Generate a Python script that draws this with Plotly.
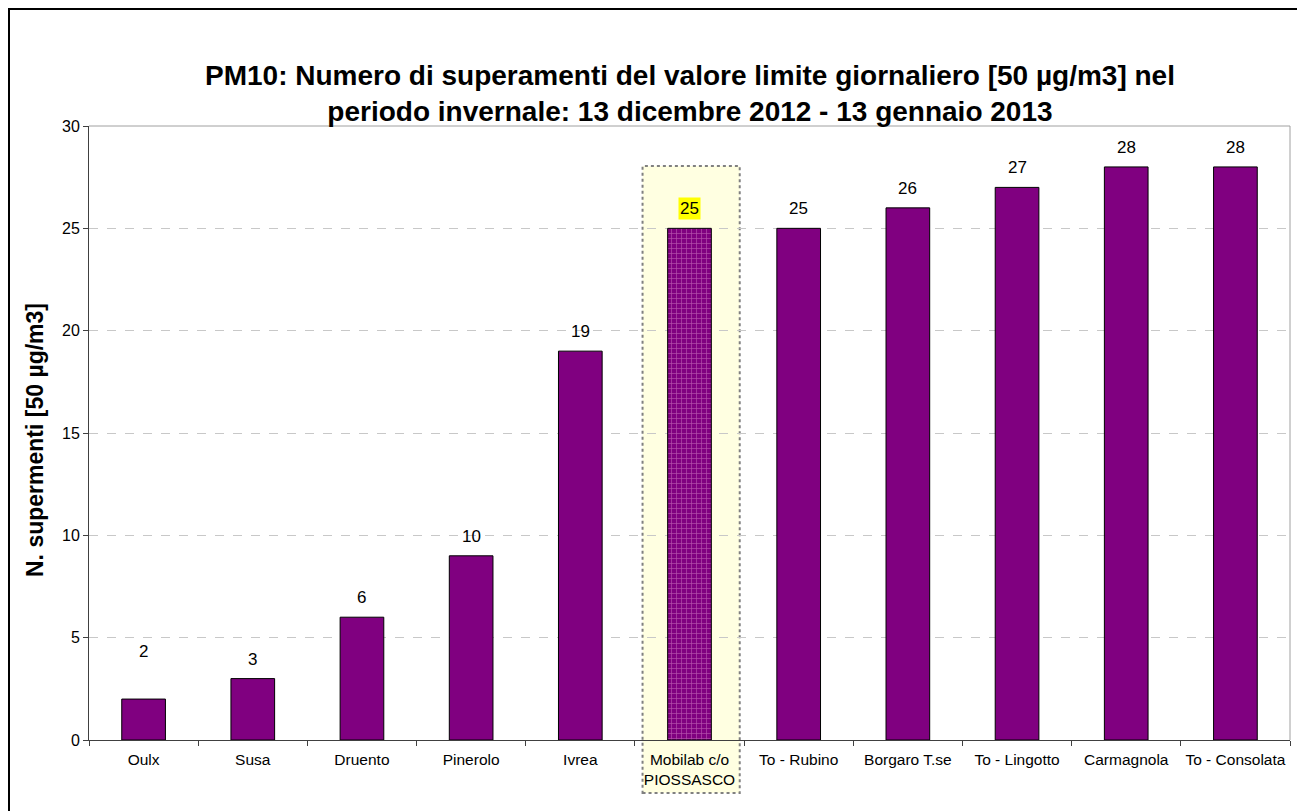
import plotly.graph_objects as go

categories = ["Oulx", "Susa", "Druento", "Pinerolo", "Ivrea", "Mobilab c/o<br>PIOSSASCO",
              "To - Rubino", "Borgaro T.se", "To - Lingotto", "Carmagnola", "To - Consolata"]
bar_values = [2, 3, 6, 9, 19, 25, 25, 26, 27, 28, 28]
label_values = [2, 3, 6, 10, 19, 25, 25, 26, 27, 28, 28]
highlight_index = 5
y_ticks = [0, 5, 10, 15, 20, 25, 30]
title_lines = ["PM10: Numero di superamenti del valore limite giornaliero [50 µg/m3] nel",
               "periodo invernale: 13 dicembre 2012 - 13 gennaio 2013"]
y_title = "N. supermenti [50 µg/m3]"

# extra vertical offset (px) of data labels, as placed in the original chart
label_offsets = [28, 0, 0, 0, 0, 0, 0, 0, 0, 0, 0]

PURPLE = "#800080"
FONT = "Liberation Sans, Arial, sans-serif"

W, H = 1297, 811
L, R, T, B = 89, 7, 126, 71
pw, ph = W - L - R, H - T - B

def px_x(p):
    return (p - L) / pw

def px_y(p):
    return (H - B - p) / ph

fig = go.Figure()

patterns = ["+" if i == highlight_index else "" for i in range(len(categories))]
fig.add_trace(go.Bar(
    x=categories, y=bar_values, width=0.4,
    marker=dict(color=PURPLE, line=dict(color="black", width=1),
                pattern=dict(shape=patterns, fgcolor="#E8A0D8", bgcolor=PURPLE,
                             size=5, solidity=0.25)),
    hoverinfo="skip", showlegend=False,
))

annotations = []
for i, (c, v, lab) in enumerate(zip(categories, bar_values, label_values)):
    annotations.append(dict(
        x=c, y=v, xref="x", yref="y", text=str(lab), showarrow=False,
        yanchor="bottom", yshift=8 + label_offsets[i],
        font=dict(family=FONT, size=17, color="black"),
        bgcolor="#FFFF00" if i == highlight_index else "rgba(0,0,0,0)",
        borderpad=1,
    ))

annotations.append(dict(
    x=0.5, y=px_y(94), xref="paper", yref="paper", showarrow=False,
    text="<b>" + "<br>".join(title_lines) + "</b>",
    font=dict(family=FONT, size=28, color="black"), xanchor="center", yanchor="middle",
))

annotations.append(dict(
    x=px_x(35), y=px_y(440), xref="paper", yref="paper", showarrow=False,
    text="<b>" + y_title + "</b>", textangle=-90,
    font=dict(family=FONT, size=23, color="black"), xanchor="center", yanchor="middle",
))

x0, y0, x1 = px_x(9), px_y(9), px_x(1400)
yb = px_y(900)
shapes = [
    dict(type="path", xref="paper", yref="paper",
         path=f"M {x0},{yb} L {x0},{y0} L {x1},{y0}",
         line=dict(color="black", width=2), layer="above"),
    dict(type="rect", xref="x", yref="paper",
         x0=highlight_index - 0.43, x1=highlight_index + 0.46, y0=px_y(793), y1=px_y(166),
         line=dict(color="#808080", width=2, dash="dot"), fillcolor="rgba(255,255,200,0.55)",
         layer="below"),
    dict(type="line", xref="paper", yref="paper", x0=0, x1=1, y0=1, y1=1,
         line=dict(color="#A0A0A0", width=1)),
    dict(type="line", xref="paper", yref="paper", x0=1, x1=1, y0=0, y1=1,
         line=dict(color="#A0A0A0", width=1)),
]

fig.update_layout(
    width=W, height=H,
    margin=dict(l=L, r=R, t=T, b=B, pad=0, autoexpand=False),
    paper_bgcolor="white", plot_bgcolor="rgba(0,0,0,0)",
    font=dict(family=FONT, color="black"),
    shapes=shapes, annotations=annotations,
    xaxis=dict(
        type="category", tickson="boundaries", ticks="outside", ticklen=5,
        tickcolor="#404040", showline=True, linecolor="#404040", linewidth=1,
        showgrid=False, tickfont=dict(family=FONT, size=15.5), range=[-0.5, 10.5],
        ticklabelstandoff=5, tickangle=0, automargin=False,
    ),
    yaxis=dict(
        range=[0, 30], tickvals=y_ticks, ticks="outside", ticklen=5,
        tickcolor="#404040", showline=True, linecolor="#404040", linewidth=1,
        showgrid=True, gridcolor="#C8C8C8", griddash="dash", gridwidth=1,
        tickfont=dict(family=FONT, size=16), zeroline=False, automargin=False,
    ),
)

fig.write_html("out.html")
